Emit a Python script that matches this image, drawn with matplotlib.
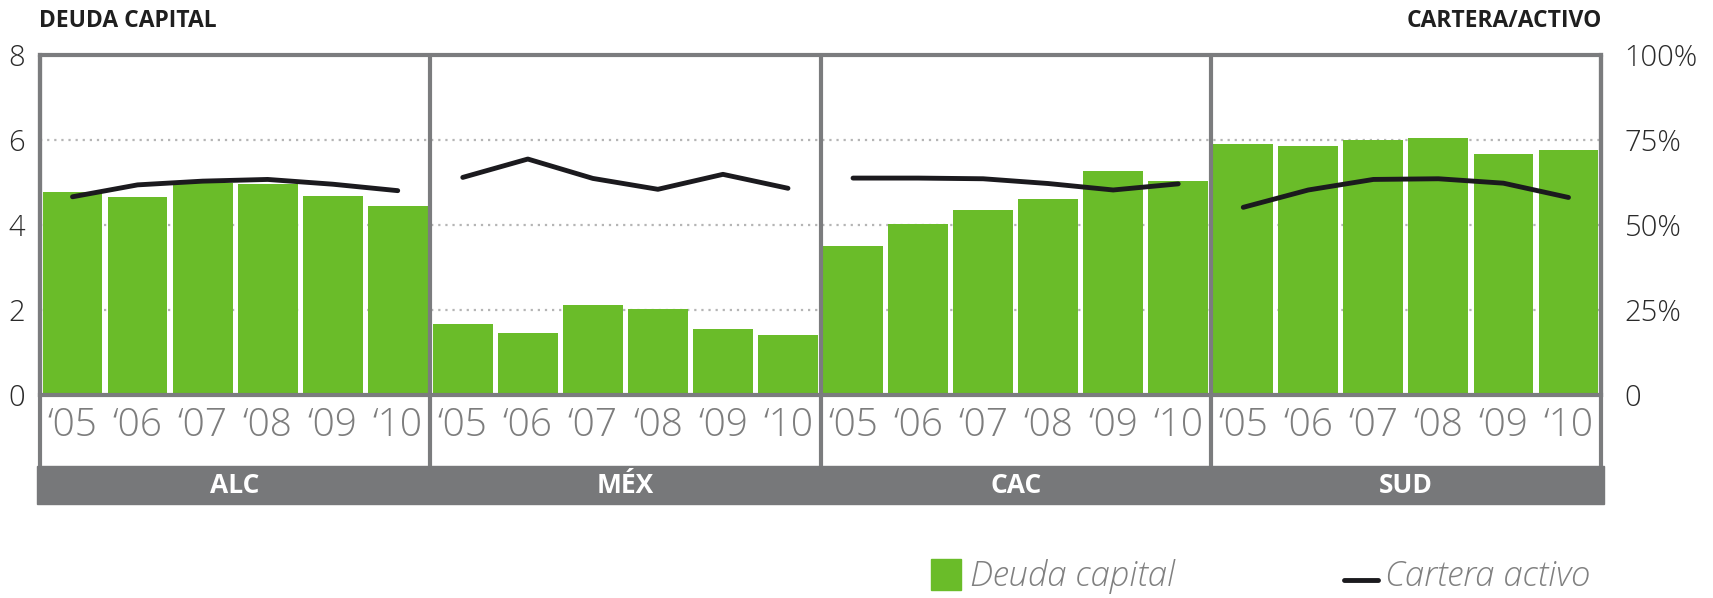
import matplotlib.pyplot as plt
from matplotlib.patches import Rectangle
from matplotlib.lines import Line2D
import numpy as np

# Data
regions = ["ALC", "MÉX", "CAC", "SUD"]
years = ["‘05", "‘06", "‘07", "‘08", "‘09", "‘10"]

deuda_alc = [4.77, 4.66, 5.00, 4.97, 4.68, 4.45]
deuda_mex = [1.67, 1.46, 2.12, 2.02, 1.55, 1.41]
deuda_cac = [3.51, 4.02, 4.35, 4.61, 5.27, 5.04]
deuda_sud = [5.91, 5.86, 6.00, 6.05, 5.67, 5.76]

cartera_alc = [58.3, 61.8, 62.9, 63.4, 62.0, 60.1]
cartera_mex = [64.0, 69.4, 63.7, 60.5, 64.9, 60.8]
cartera_cac = [63.8, 63.8, 63.6, 62.2, 60.3, 62.1]
cartera_sud = [55.2, 60.3, 63.4, 63.6, 62.3, 58.1]

left_ticks = [0, 2, 4, 6, 8]
right_ticks = [0, 25, 50, 75, 100]
right_labels = ["0", "25%", "50%", "75%", "100%"]

deuda = [deuda_alc, deuda_mex, deuda_cac, deuda_sud]
cartera = [cartera_alc, cartera_mex, cartera_cac, cartera_sud]

# Style
GREEN = "#6abc29"
GRAY = "#7b7c7e"
BAND = "#77787a"
LINE = "#1b1a1e"
FONT = "Open Sans"

W, H = 1713, 598
fig = plt.figure(figsize=(W / 100, H / 100), dpi=100)
ax = fig.add_axes([40 / W, 1 - 395 / H, (1601 - 40) / W, 340 / H])
ax2 = ax.twinx()

n = len(years)
for g in range(len(regions)):
    x = np.arange(n) + g * n
    ax.bar(x, deuda[g], width=0.92, color=GREEN, zorder=2)
    ax2.plot(x, cartera[g], color=LINE, lw=3.5, solid_capstyle="round",
             solid_joinstyle="round", zorder=3)

ax.set_xlim(-0.5, len(regions) * n - 0.5)
ax.set_ylim(0, 8)
ax2.set_ylim(0, 100)

# grid
for v in [2, 4, 6]:
    ax.axhline(v, color="#b5b5b5", lw=1.6, ls=(0, (1, 2.2)), zorder=1, clip_on=False)

# frame
for sp in ax.spines.values():
    sp.set_color(GRAY)
    sp.set_linewidth(3)
    sp.set_zorder(4)
for sp in ax2.spines.values():
    sp.set_visible(False)

# panel dividers, continued down through the year labels
ext = 71 / 340
for xv in [n * k - 0.5 for k in range(len(regions) + 1)]:
    ax.plot([xv, xv], [-ext * 8, 8], color=GRAY, lw=3, clip_on=False,
            zorder=4, solid_capstyle="butt")

ax.set_xticks(np.arange(len(regions) * n))
ax.set_xticklabels(years * len(regions), fontsize=28, color="#7d7d7d",
                   family=FONT, fontweight="light")
ax.tick_params(axis="x", length=0, pad=8)

ax.set_yticks(left_ticks)
ax.set_yticklabels([str(t) for t in left_ticks], fontsize=21, color="#2a2a2a",
                   family=FONT, fontweight="light")
ax.tick_params(axis="y", length=0, pad=11)

ax2.set_yticks(right_ticks)
ax2.set_yticklabels(right_labels, fontsize=21, color="#2a2a2a",
                    family=FONT, fontweight="light")
ax2.tick_params(axis="y", length=0, pad=17)

# region band
fig.add_artist(Rectangle((37 / W, 1 - 504 / H), (1604 - 37) / W, 38 / H,
                         transform=fig.transFigure, color=BAND, zorder=0))
for g, name in enumerate(regions):
    xc = g * n + (n - 1) / 2
    ax.text(xc, -ext * 8 - 0.45, name, ha="center", va="center", color="white",
            fontsize=19, fontweight="bold", family=FONT, clip_on=False)

# titles
fig.text(39 / W, 1 - 21 / H, "DEUDA CAPITAL", ha="left", va="center",
         fontsize=16.5, fontweight="bold", color="#1f1f1f", family=FONT)
fig.text(1602 / W, 1 - 21 / H, "CARTERA/ACTIVO", ha="right", va="center",
         fontsize=16.5, fontweight="bold", color="#1f1f1f", family=FONT)

# legend
fig.add_artist(Rectangle((931 / W, 1 - 590 / H), 30 / W, 31 / H,
                         transform=fig.transFigure, color=GREEN))
fig.text(970 / W, 1 - 576 / H, "Deuda capital", ha="left", va="center",
         fontsize=25, style="italic", fontweight="light", color="#808080", family=FONT)
fig.add_artist(Line2D([1344 / W, 1378 / W], [1 - 580 / H, 1 - 580 / H],
                      transform=fig.transFigure, color=LINE, lw=3.5,
                      solid_capstyle="round"))
fig.text(1385 / W, 1 - 576 / H, "Cartera activo", ha="left", va="center",
         fontsize=25, style="italic", fontweight="light", color="#808080", family=FONT)

fig.savefig("out.png", dpi=100)
